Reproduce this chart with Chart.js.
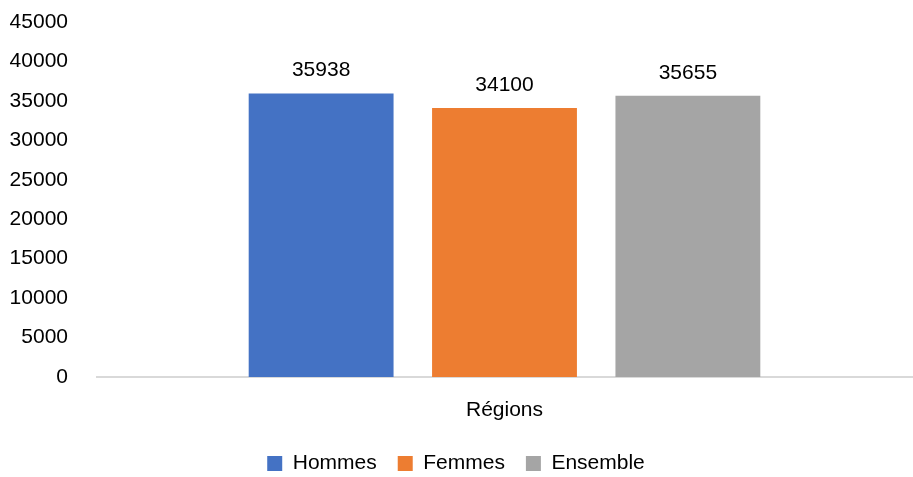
<!DOCTYPE html>
<html>
<head>
<meta charset="utf-8">
<script src="https://cdn.jsdelivr.net/npm/chart.js@4/dist/chart.umd.min.js"></script>
<style>
  html, body { margin: 0; padding: 0; background: #fff; }
  #wrap { width: 913px; height: 477px; }
</style>
</head>
<body>
<div id="wrap"><canvas id="myChart"></canvas></div>
<script>
const categories = ["Régions"];
const seriesNames = ["Hommes", "Femmes", "Ensemble"];
const hommes = [35938];
const femmes = [34100];
const ensemble = [35655];
const yTicks = [0, 5000, 10000, 15000, 20000, 25000, 30000, 35000, 40000, 45000];

const colors = ["#4472c4", "#ed7d31", "#a5a5a5"];
const FONT = "'Liberation Sans', Arial, sans-serif";

Chart.defaults.font.family = FONT;
Chart.defaults.color = "#000";

// labels above bars
const barLabels = {
  id: "barLabels",
  afterDatasetsDraw(chart) {
    const ctx = chart.ctx;
    ctx.save();
    ctx.font = "21px " + FONT;
    ctx.fillStyle = "#000";
    ctx.textAlign = "center";
    ctx.textBaseline = "middle";
    chart.data.datasets.forEach((ds, i) => {
      chart.getDatasetMeta(i).data.forEach((bar, j) => {
        ctx.fillText(ds.data[j], bar.x, bar.y - 23);
      });
    });
    ctx.restore();
  },
};

const ctx = document.getElementById("myChart");
new Chart(ctx, {
  type: "bar",
  data: {
    labels: categories,
    datasets: [
      { label: seriesNames[0], data: hommes, backgroundColor: colors[0] },
      { label: seriesNames[1], data: femmes, backgroundColor: colors[1] },
      { label: seriesNames[2], data: ensemble, backgroundColor: colors[2] },
    ],
  },
  options: {
    responsive: true,
    maintainAspectRatio: false,
    animation: false,
    layout: { padding: { top: 22, right: 1, bottom: -7, left: 0 } },
    datasets: {
      bar: { categoryPercentage: 0.675, barPercentage: 0.79 },
    },
    scales: {
      x: {
        grid: { display: false },
        border: { display: true, color: "#d9d9d9", width: 2 },
        ticks: { font: { size: 21 }, padding: 13 },
        afterFit: (scale) => { scale.height = 55; },
      },
      y: {
        min: 0,
        max: 45000,
        grid: { display: false, drawTicks: false },
        border: { display: false },
        afterBuildTicks: (scale) => { scale.ticks = yTicks.map((v) => ({ value: v })); },
        ticks: { font: { size: 21 }, padding: 29, callback: (v) => String(v) },
        afterFit: (scale) => {
          scale.width = 97;
          scale.paddingTop = 0;
          scale.paddingBottom = 0;
        },
      },
    },
    plugins: {
      legend: {
        position: "bottom",
        labels: {
          font: { size: 21 },
          boxWidth: 15,
          boxHeight: 15,
          padding: 21,
        },
      },
      tooltip: { enabled: false },
    },
  },
  plugins: [barLabels],
});
</script>
</body>
</html>
